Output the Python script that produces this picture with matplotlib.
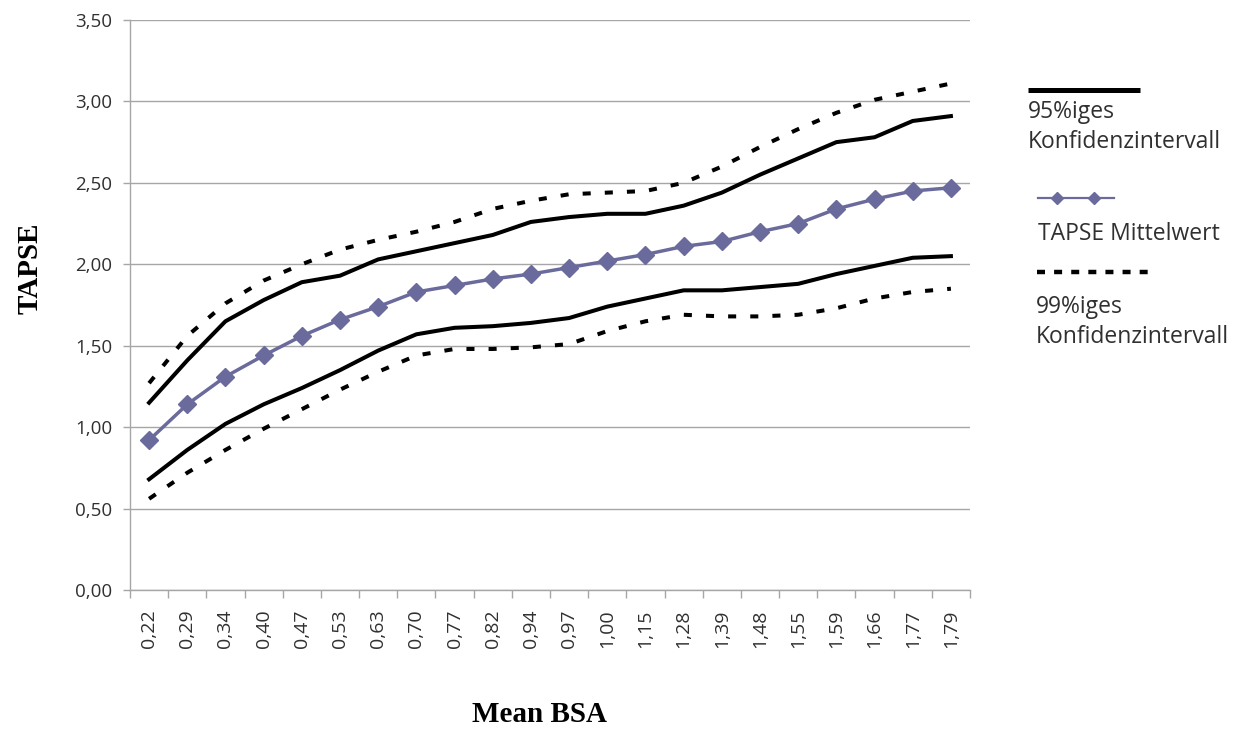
import numpy as np
import matplotlib
matplotlib.use("Agg")
import matplotlib.pyplot as plt
from matplotlib.ticker import FixedLocator

# Data
bsa_labels = ["0,22", "0,29", "0,34", "0,40", "0,47", "0,53", "0,63", "0,70", "0,77", "0,82", "0,94",
              "0,97", "1,00", "1,15", "1,28", "1,39", "1,48", "1,55", "1,59", "1,66", "1,77", "1,79"]
tapse_mean = [0.92, 1.14, 1.31, 1.44, 1.56, 1.66, 1.74, 1.83, 1.87, 1.91, 1.94,
              1.98, 2.02, 2.06, 2.11, 2.14, 2.20, 2.25, 2.34, 2.40, 2.45, 2.47]
upper95 = [1.15, 1.41, 1.65, 1.78, 1.89, 1.93, 2.03, 2.08, 2.13, 2.18, 2.26,
           2.29, 2.31, 2.31, 2.36, 2.44, 2.55, 2.65, 2.75, 2.78, 2.88, 2.91]
lower95 = [0.68, 0.86, 1.02, 1.14, 1.24, 1.35, 1.47, 1.57, 1.61, 1.62, 1.64,
           1.67, 1.74, 1.79, 1.84, 1.84, 1.86, 1.88, 1.94, 1.99, 2.04, 2.05]
upper99 = [1.27, 1.56, 1.76, 1.90, 2.00, 2.09, 2.15, 2.20, 2.26, 2.34, 2.39,
           2.43, 2.44, 2.45, 2.50, 2.60, 2.72, 2.83, 2.93, 3.01, 3.06, 3.11]
lower99 = [0.56, 0.72, 0.86, 0.99, 1.11, 1.23, 1.34, 1.44, 1.48, 1.48, 1.49,
           1.51, 1.59, 1.65, 1.69, 1.68, 1.68, 1.69, 1.73, 1.79, 1.83, 1.85]

y_ticks = [0.0, 0.5, 1.0, 1.5, 2.0, 2.5, 3.0, 3.5]
y_tick_labels = ["0,00", "0,50", "1,00", "1,50", "2,00", "2,50", "3,00", "3,50"]

purple = "#6A6A9C"
grid_gray = "#A6A6A6"
text_col = "#303030"

W, H = 1247, 731
fig = plt.figure(figsize=(W / 100, H / 100), dpi=100)
ax = fig.add_axes([130 / W, 1 - 590 / H, 840 / W, 570 / H])

x = np.arange(len(bsa_labels))
ax.plot(x, upper99, color="black", lw=2.9, dashes=(2.0, 3.5))
ax.plot(x, upper95, color="black", lw=2.9)
ax.plot(x, tapse_mean, color=purple, lw=2.5, marker="D", ms=9, mfc=purple, mec=purple)
ax.plot(x, lower95, color="black", lw=2.9)
ax.plot(x, lower99, color="black", lw=2.9, dashes=(2.0, 3.5))

ax.set_xlim(-0.5, len(bsa_labels) - 0.5)
ax.set_ylim(0, 3.5)

# y axis
ax.set_yticks(y_ticks)
ax.set_yticklabels(y_tick_labels, fontfamily="Open Sans", fontsize=13.5, color=text_col)
ax.tick_params(axis="y", length=5, width=1, color=grid_gray, pad=8)
ax.yaxis.grid(True, color=grid_gray, lw=1)
ax.set_axisbelow(True)

# x axis: labels at categories, ticks between
ax.set_xticks(x)
ax.set_xticklabels(bsa_labels, rotation=90, fontfamily="Open Sans", fontsize=14, color=text_col)
ax.tick_params(axis="x", which="major", length=0, pad=14)
ax.xaxis.set_minor_locator(FixedLocator(np.arange(-0.5, len(bsa_labels), 1.0)))
ax.tick_params(axis="x", which="minor", length=6, width=1, color=grid_gray)

for s in ["top", "right"]:
    ax.spines[s].set_visible(False)
for s in ["left", "bottom"]:
    ax.spines[s].set_color(grid_gray)
    ax.spines[s].set_linewidth(1)

fig.text(540 / W, 1 - 714 / H, "Mean BSA", ha="center", va="center",
         fontfamily="Liberation Serif", fontweight="bold", fontsize=21)
fig.text(30 / W, 1 - 268 / H, "TAPSE", ha="center", va="center", rotation=90,
         fontfamily="Liberation Serif", fontweight="bold", fontsize=21)

# legend panel (samples above the labels, like the original)
lg = fig.add_axes([0, 0, 1, 1], facecolor="none")
lg.set_xlim(0, W)
lg.set_ylim(H, 0)
lg.axis("off")
lg.plot([1028, 1140], [90, 90], color="black", lw=3.6, solid_capstyle="butt")
lg.plot([1038, 1057, 1094, 1114], [198, 198, 198, 198], color=purple, lw=1.6,
        marker="D", ms=6, markevery=[1, 2], mfc=purple, mec=purple)
lg.plot([1037, 1155], [272, 272], color="black", lw=3.2, dashes=(1.8, 2.05))

leg_font = dict(fontfamily="Open Sans", fontsize=16.5, color=text_col, va="baseline", ha="left")
lg.text(1028, 118, "95%iges", **leg_font)
lg.text(1028, 148, "Konfidenzintervall", **leg_font)
lg.text(1038, 240, "TAPSE Mittelwert", **leg_font)
lg.text(1036, 313, "99%iges", **leg_font)
lg.text(1036, 343, "Konfidenzintervall", **leg_font)

fig.savefig("out.png", dpi=100, facecolor="white")
